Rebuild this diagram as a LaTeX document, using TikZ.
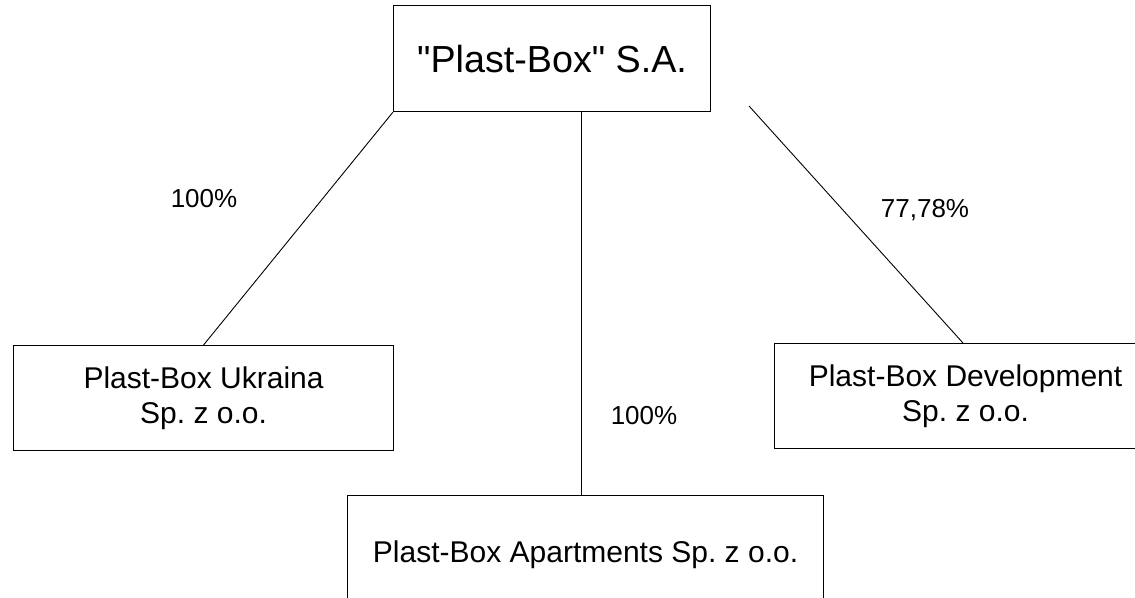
\documentclass[tikz,border=0pt]{standalone}
\usepackage{fontspec}
\setmainfont{Liberation Sans}
\newfontfamily\rawsans{Liberation Sans}
\frenchspacing
\begin{document}
\begin{tikzpicture}[x=1pt,y=-1pt,
  box/.style={draw, line width=1.1pt, inner sep=0pt, anchor=north west, align=center, font=\fontsize{30}{35}\selectfont},
  lbl/.style={inner sep=0pt, font=\fontsize{26}{30}\selectfont},
  conn/.style={line width=0.9pt}]
\useasboundingbox (0,0) rectangle (1135,597);
\clip (0,0) rectangle (1135,597);
\node[box, minimum width=317pt, minimum height=106pt, font=\rawsans\fontsize{37.7}{45}\selectfont] (top) at (393,5) {"Plast-Box" S.A.};
\node[box, minimum width=380pt, minimum height=105pt] (ukr) at (13,345) {Plast-Box Ukraina\\Sp. z o.o.};
\node[box, minimum width=382pt, minimum height=105pt] (dev) at (774,343) {Plast-Box Development\\Sp. z o.o.};
\node[box, minimum width=476pt, minimum height=118pt] (apt) at (347,495) {Plast-Box Apartments Sp. z o.o.};
\node[lbl] (l1) at (204,199) {100\%};
\node[lbl] (l2) at (644,416) {100\%};
\node[lbl] (l3) at (925,210) {77,78\%};
\coordinate (ms) at (581,111);
\coordinate (rs) at (749,106);
\coordinate (re) at (963,343);
\draw[conn] (top.south west) -- (ukr.north);
\draw[conn] (ms) -- (ms |- apt.north);
\draw[conn] (rs) -- (re);
\end{tikzpicture}
\end{document}
